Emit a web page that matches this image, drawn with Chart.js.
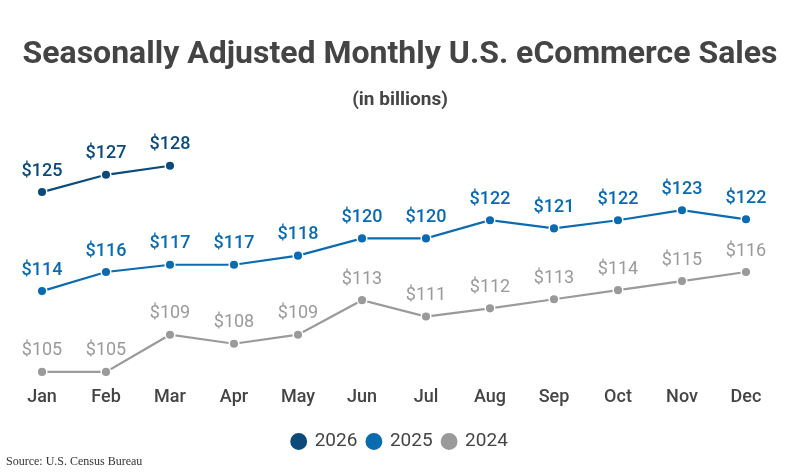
<!DOCTYPE html>
<html>
<head>
<meta charset="utf-8">
<script src="https://cdn.jsdelivr.net/npm/chart.js@4"></script>
<style>
  body { margin: 0; background: #fff; }
  #wrap { position: relative; width: 800px; height: 475px; }
  #source { position: absolute; left: 6px; top: 454px; font: 12px "Liberation Serif", "Times New Roman", serif; color: #333; }
</style>
</head>
<body>
<div id="wrap">
  <canvas id="salesChart" width="800" height="475"></canvas>
  <div id="source">Source: U.S. Census Bureau</div>
</div>
<script>
// Months on the x axis
const months = ["Jan", "Feb", "Mar", "Apr", "May", "Jun", "Jul", "Aug", "Sep", "Oct", "Nov", "Dec"];

// Sales in billions
const sales2026 = [124.8, 126.7, 127.7];
const sales2025 = [113.9, 116.0, 116.8, 116.8, 117.8, 119.7, 119.7, 121.7, 120.8, 121.7, 122.8, 121.8];
const sales2024 = [105.0, 105.0, 109.1, 108.1, 109.1, 112.9, 111.1, 112.0, 113.0, 114.0, 115.0, 116.0];

const fontName = "Roboto, 'Noto Sans', sans-serif";

// Draw "$value" above each point
const pointLabels = {
    id: "pointLabels",
    afterDatasetsDraw(chart) {
        const ctx = chart.ctx;
        ctx.save();
        ctx.textAlign = "center";
        ctx.textBaseline = "middle";
        chart.data.datasets.forEach((ds, i) => {
            const meta = chart.getDatasetMeta(i);
            if (meta.hidden) return;
            ctx.fillStyle = ds.borderColor;
            ctx.font = (ds.labelWeight || "normal") + " 18px " + fontName;
            meta.data.forEach((pt, j) => {
                ctx.fillText("$" + Math.round(ds.data[j]), pt.x, pt.y - 21);
            });
        });
        ctx.restore();
    }
};

const ctx = document.getElementById("salesChart").getContext("2d");
new Chart(ctx, {
    type: "line",
    data: {
        labels: months,
        datasets: [
            { label: "2026", data: sales2026, borderColor: "#0b4a7b", backgroundColor: "#0b4a7b", labelWeight: "500" },
            { label: "2025", data: sales2025, borderColor: "#0a6bb0", backgroundColor: "#0a6bb0", labelWeight: "500" },
            { label: "2024", data: sales2024, borderColor: "#9a9a9a", backgroundColor: "#9a9a9a" }
        ]
    },
    options: {
        responsive: false,
        animation: false,
        layout: { padding: { left: 10, right: 10, top: 0, bottom: 14 } },
        elements: {
            line: { borderWidth: 2.2, tension: 0 },
            point: { radius: 4.8, hoverRadius: 4.8, borderWidth: 1.5, borderColor: "#fff" }
        },
        datasets: {
            line: { pointBorderColor: "#fff", pointBorderWidth: 1.5 }
        },
        scales: {
            x: {
                offset: true,
                grid: { display: false },
                border: { display: false },
                ticks: { color: "#444", font: { family: fontName, size: 18, weight: "500" }, padding: -2 },
                afterFit(scale) { scale.height = 41; }
            },
            y: {
                display: false,
                min: 104,
                max: 130.4
            },
            // empty axis that keeps the plot off the right edge
            yRight: {
                position: "right",
                grid: { display: false },
                border: { display: false },
                ticks: { display: false },
                afterFit(scale) { scale.width = 12; }
            }
        },
        plugins: {
            title: {
                display: true,
                text: "Seasonally Adjusted Monthly U.S. eCommerce Sales",
                color: "#444",
                font: { family: fontName, size: 32, weight: "bold" },
                padding: { top: 36, bottom: 14 }
            },
            subtitle: {
                display: true,
                text: "(in billions)",
                color: "#444",
                font: { family: fontName, size: 19, weight: "bold" },
                padding: { bottom: 30 }
            },
            legend: {
                position: "bottom",
                labels: {
                    usePointStyle: true,
                    pointStyle: "circle",
                    boxWidth: 13,
                    boxHeight: 13,
                    padding: 10,
                    color: "#444",
                    font: { family: fontName, size: 19 }
                }
            },
            tooltip: { enabled: false }
        }
    },
    plugins: [pointLabels]
});
</script>
</body>
</html>
